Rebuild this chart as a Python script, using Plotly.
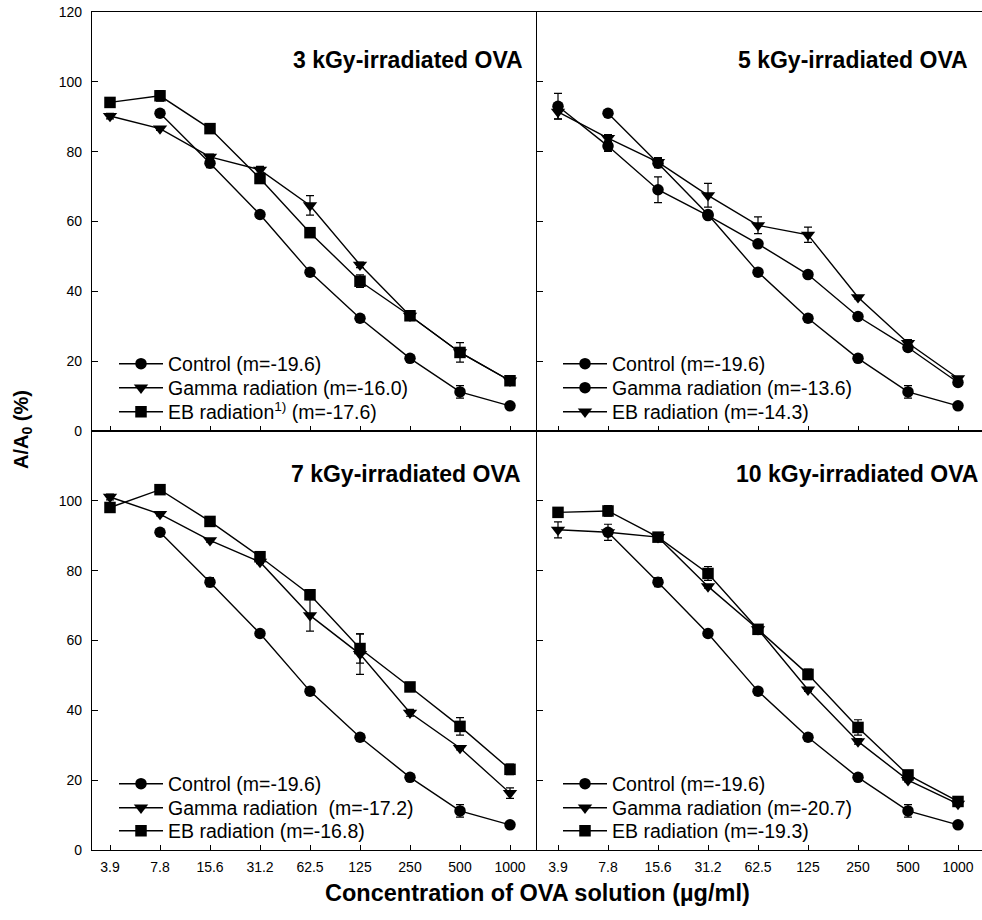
import plotly.graph_objects as go

# ---------------- data ----------------
CONC_LABELS = ["3.9", "7.8", "15.6", "31.2", "62.5", "125", "250", "500", "1000"]
X_IDX = list(range(len(CONC_LABELS)))

CONTROL = [None, 91.0, 76.7, 62.0, 45.5, 32.3, 20.8, 11.2, 7.2]
CONTROL_ERR = [0, 0.8, 1.3, 0.5, 0.5, 1.0, 0.6, 1.8, 0.5]

G3 = [90.2, 86.6, 78.5, 74.8, 64.6, 47.6, 33.0, 22.5, 14.4]
G3_ERR = [0.8, 0.5, 0.8, 1.0, 2.8, 0.8, 0.5, 0.5, 0.5]
E3 = [94.1, 96.0, 86.6, 72.3, 56.8, 42.9, 33.0, 22.5, 14.4]
E3_ERR = [0.5, 1.5, 1.2, 1.0, 0.5, 1.8, 0.5, 2.8, 0.5]

G5 = [93.0, 81.6, 69.1, 61.7, 53.6, 44.8, 32.8, 23.9, 13.9]
G5_ERR = [3.7, 1.5, 3.7, 0.5, 0.5, 0.5, 0.5, 1.0, 0.5]
E5 = [91.4, 83.9, 77.0, 67.5, 58.9, 56.2, 38.3, 25.2, 15.1]
E5_ERR = [2.0, 1.0, 1.3, 3.4, 2.4, 2.2, 0.5, 1.0, 0.5]

G7 = [101.1, 96.2, 88.7, 82.5, 67.2, 56.1, 39.3, 29.2, 16.3]
G7_ERR = [0.8, 0.5, 0.5, 0.5, 4.5, 5.8, 1.0, 0.5, 1.5]
E7 = [98.1, 103.2, 94.1, 84.0, 73.1, 57.7, 46.7, 35.4, 23.1]
E7_ERR = [0.8, 0.5, 0.5, 0.8, 0.5, 4.2, 0.5, 2.5, 1.5]

G10 = [91.7, 91.0, 89.6, 75.5, 63.2, 45.9, 31.1, 20.0, 13.2]
G10_ERR = [2.3, 2.3, 0.5, 0.5, 0.5, 0.5, 0.8, 0.5, 0.5]
E10 = [96.7, 97.1, 89.6, 79.2, 63.2, 50.3, 35.1, 21.5, 13.9]
E10_ERR = [0.5, 1.5, 0.5, 2.0, 1.0, 1.5, 2.2, 0.5, 0.5]

PANEL_TITLES = ["3 kGy-irradiated OVA", "5 kGy-irradiated OVA",
                "7 kGy-irradiated OVA", "10 kGy-irradiated OVA"]
LEGEND_NAMES = [
    ["Control (m=-19.6)", "Gamma radiation (m=-16.0)", "EB radiation<sup>1)</sup> (m=-17.6)"],
    ["Control (m=-19.6)", "Gamma radiation (m=-13.6)", "EB radiation (m=-14.3)"],
    ["Control (m=-19.6)", "Gamma radiation\u00a0 (m=-17.2)", "EB radiation (m=-16.8)"],
    ["Control (m=-19.6)", "Gamma radiation (m=-20.7)", "EB radiation (m=-19.3)"],
]
Y_TICKS_TOP = [0, 20, 40, 60, 80, 100, 120]
Y_TICKS_BOTTOM = [0, 20, 40, 60, 80, 100]

# ---------------- styling ----------------
FONT = "Arial, Liberation Sans, Helvetica, sans-serif"
BLACK = "#000000"

panels = [
    dict(ax="", g=G3, ge=G3_ERR, e=E3, ee=E3_ERR, sym=["circle", "triangle-down", "square"]),
    dict(ax="2", g=G5, ge=G5_ERR, e=E5, ee=E5_ERR, sym=["circle", "circle", "triangle-down"]),
    dict(ax="3", g=G7, ge=G7_ERR, e=E7, ee=E7_ERR, sym=["circle", "triangle-down", "square"]),
    dict(ax="4", g=G10, ge=G10_ERR, e=E10, ee=E10_ERR, sym=["circle", "triangle-down", "square"]),
]

fig = go.Figure()

legend_ids = []
for i, p in enumerate(panels):
    series = [
        (CONTROL, CONTROL_ERR),
        (p["g"], p["ge"]),
        (p["e"], p["ee"]),
    ]
    for j, (vals, errs) in enumerate(series):
        n = i * 3 + j + 1
        legend_id = "legend" if n == 1 else f"legend{n}"
        legend_ids.append((legend_id, i, j))
        sym = p["sym"][j]
        size = 11.5 if sym != "triangle-down" else 12.5
        fig.add_trace(go.Scatter(
            x=X_IDX, y=vals,
            xaxis="x" + p["ax"], yaxis="y" + p["ax"],
            mode="lines+markers",
            name=LEGEND_NAMES[i][j],
            legend=legend_id,
            line=dict(color=BLACK, width=1.4),
            marker=dict(symbol=sym, size=size, color=BLACK),
            error_y=dict(type="data", array=errs, visible=True,
                         color=BLACK, thickness=1.2, width=4),
            connectgaps=False,
            showlegend=True,
        ))

layout = dict(
    width=982, height=920,
    margin=dict(l=92, r=0, t=12, b=70),
    paper_bgcolor="white", plot_bgcolor="white",
    font=dict(family=FONT, color=BLACK, size=14),
    showlegend=True,
)

x_domains = {"": [0, 0.5], "2": [0.5, 1], "3": [0, 0.5], "4": [0.5, 1]}
y_domains = {"": [0.5, 1], "2": [0.5, 1], "3": [0, 0.5], "4": [0, 0.5]}
x_ranges = {"": [-0.36, 8.54], "2": [-0.42, 8.48], "3": [-0.36, 8.54], "4": [-0.42, 8.48]}

for ax in ["", "2", "3", "4"]:
    bottom = ax in ("3", "4")
    left = ax in ("", "3")
    layout["xaxis" + ax] = dict(
        domain=x_domains[ax], range=x_ranges[ax], anchor="y" + ax,
        tickmode="array", tickvals=X_IDX, ticktext=CONC_LABELS,
        showticklabels=bottom, ticks="inside", ticklen=5, tickwidth=1.2,
        tickcolor=BLACK, showline=True, linecolor=BLACK, linewidth=1.3,
        mirror=True, showgrid=False, zeroline=False,
        tickfont=dict(size=14, family=FONT), ticklabelstandoff=4,
    )
    layout["yaxis" + ax] = dict(
        domain=y_domains[ax], range=[0, 120], anchor="x" + ax,
        tickmode="array", tickvals=Y_TICKS_BOTTOM if bottom else Y_TICKS_TOP,
        showticklabels=left, ticks="inside", ticklen=6, tickwidth=1.2,
        tickcolor=BLACK, showline=True, linecolor=BLACK, linewidth=1.3,
        mirror=False, showgrid=False, zeroline=False,
        tickfont=dict(size=14, family=FONT), ticklabelstandoff=6,
    )

# legends (paper coords; plot area 890 x 838 starting at x=92, y=12)
def px_x(px):
    return (px - 92) / 890.0

def px_y(py):
    return (850 - py) / 838.0

legend_left = [114, 558, 114, 558]
legend_rows = [[364, 388, 412], [364, 388, 412], [784, 808, 831], [784, 808, 831]]
for legend_id, i, j in legend_ids:
    layout[legend_id] = dict(
        x=px_x(legend_left[i]), y=px_y(legend_rows[i][j]),
        xanchor="left", yanchor="middle",
        bgcolor="rgba(0,0,0,0)", borderwidth=0,
        font=dict(size=19.5, family=FONT, color=BLACK),
        itemwidth=44, tracegroupgap=0, traceorder="normal",
    )

annotations = []
title_pos = [(525, 60), (970, 60), (523, 474), (980, 474)]
for t, (tx, ty) in zip(PANEL_TITLES, title_pos):
    annotations.append(dict(
        text="<b>" + t + "</b>", x=px_x(tx), y=px_y(ty), xref="paper", yref="paper",
        xanchor="right", yanchor="middle", showarrow=False,
        font=dict(size=23, family=FONT, color=BLACK),
    ))
annotations.append(dict(
    text="<b>Concentration of OVA solution (\u00b5g/ml)</b>",
    x=px_x(537), y=px_y(893), xref="paper", yref="paper",
    xanchor="center", yanchor="middle", showarrow=False,
    font=dict(size=23.5, family=FONT, color=BLACK),
))
annotations.append(dict(
    text="<b>A/A<sub>0</sub> (%)</b>",
    x=px_x(22), y=px_y(430), xref="paper", yref="paper",
    xanchor="center", yanchor="middle", showarrow=False, textangle=-90,
    font=dict(size=20, family=FONT, color=BLACK),
))
layout["annotations"] = annotations

fig.update_layout(**layout)
fig.write_html("out.html")
